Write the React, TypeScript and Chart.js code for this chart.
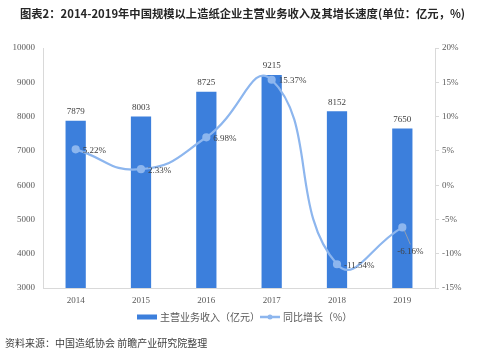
import React, { useEffect, useRef } from "react";
import { Chart, registerables } from "chart.js";

Chart.register(...registerables);

const years = ["2014", "2015", "2016", "2017", "2018", "2019"];
const revenue = [7879, 8003, 8725, 9215, 8152, 7650];
const growth = [5.22, 2.33, 6.98, 15.37, -11.54, -6.16];
const leftTicks = [3000, 4000, 5000, 6000, 7000, 8000, 9000, 10000];
const rightTicks = [-15, -10, -5, 0, 5, 10, 15, 20];
const titleText = "图表2：2014-2019年中国规模以上造纸企业主营业务收入及其增长速度(单位：亿元，%)";
const sourceText = "资料来源：中国造纸协会 前瞻产业研究院整理";
const barLegend = "主营业务收入（亿元）";
const lineLegend = "同比增长（%）";

const BAR_COLOR = "#3c7fdc";
const LINE_COLOR = "#8db6ee";
const TICK_FONT = { family: "'Liberation Serif', 'DejaVu Serif', serif", size: 9 };
const CJK = "'Noto Sans CJK SC', 'Noto Sans', sans-serif";

const labelPlugin = {
  id: "labels",
  afterDatasetsDraw(chart: any) {
    const ctx = chart.ctx;
    ctx.save();
    ctx.font = "9px 'Liberation Serif', serif";
    ctx.fillStyle = "#404040";
    const barMeta = chart.getDatasetMeta(0);
    barMeta.data.forEach((el: any, i: number) => {
      ctx.textAlign = "center";
      ctx.textBaseline = "middle";
      ctx.fillText(String(revenue[i]), el.x, el.y - 9);
    });
    const lineMeta = chart.getDatasetMeta(1);
    lineMeta.data.forEach((el: any, i: number) => {
      const txt = growth[i].toFixed(2) + "%";
      ctx.textAlign = "left";
      ctx.textBaseline = "middle";
      if (i === lineMeta.data.length - 1) {
        ctx.strokeStyle = "#a6a6a6";
        ctx.lineWidth = 0.8;
        ctx.beginPath();
        ctx.moveTo(el.x + 2, el.y + 3);
        ctx.lineTo(el.x + 8, el.y + 17);
        ctx.stroke();
        ctx.fillText(txt, el.x - 5, el.y + 24);
      } else {
        ctx.fillText(txt, el.x + 7, el.y + 1);
      }
    });
    const ly = 317;
    ctx.fillStyle = BAR_COLOR;
    ctx.fillRect(137, ly - 2.5, 20, 5);
    ctx.font = `10px ${CJK}`;
    ctx.fillStyle = "#595959";
    ctx.textAlign = "left";
    ctx.fillText(barLegend, 160, ly);
    ctx.strokeStyle = LINE_COLOR;
    ctx.lineWidth = 2.5;
    ctx.beginPath();
    ctx.moveTo(260, ly);
    ctx.lineTo(280, ly);
    ctx.stroke();
    ctx.fillStyle = LINE_COLOR;
    ctx.beginPath();
    ctx.arc(270, ly, 2.5, 0, Math.PI * 2);
    ctx.fill();
    ctx.fillStyle = "#595959";
    ctx.fillText(lineLegend, 283, ly);
    ctx.restore();
  },
};

export default function App() {
  const ref = useRef<HTMLCanvasElement>(null);
  useEffect(() => {
    const chart = new Chart(ref.current!, {
      type: "bar",
      data: {
        labels: years,
        datasets: [
          {
            type: "bar",
            label: barLegend,
            data: revenue,
            backgroundColor: BAR_COLOR,
            barPercentage: 0.31,
            categoryPercentage: 1,
            yAxisID: "y",
            order: 1,
          },
          {
            type: "line",
            label: lineLegend,
            data: growth,
            borderColor: LINE_COLOR,
            backgroundColor: LINE_COLOR,
            borderWidth: 2.2,
            pointRadius: 3,
            tension: 0.5,
            yAxisID: "y1",
            order: 0,
          } as any,
        ],
      },
      options: {
        responsive: false,
        animation: false,
        layout: { padding: { top: 48, left: 0, right: 0, bottom: 0 } },
        plugins: { legend: { display: false }, tooltip: { enabled: false } },
        scales: {
          x: {
            grid: { display: false, drawTicks: false },
            border: { color: "#d9d9d9" },
            ticks: { font: TICK_FONT, color: "#595959", padding: 7 },
            afterFit(s: any) { s.height = 74; },
          },
          y: {
            position: "left",
            min: 3000,
            max: 10000,
            afterBuildTicks(s: any) { s.ticks = leftTicks.map((v) => ({ value: v })); },
            grid: { display: false, drawTicks: false },
            border: { color: "#d9d9d9" },
            ticks: { font: TICK_FONT, color: "#595959", padding: 8, callback: (v: any) => String(v) },
            afterFit(s: any) { s.width = 43; },
          },
          y1: {
            position: "right",
            min: -15,
            max: 20,
            afterBuildTicks(s: any) { s.ticks = rightTicks.map((v) => ({ value: v })); },
            grid: { drawOnChartArea: false, drawTicks: true, tickLength: 4, color: "#d9d9d9" },
            border: { color: "#d9d9d9" },
            ticks: { font: TICK_FONT, color: "#595959", padding: 3, callback: (v: any) => v + "%" },
            afterFit(s: any) { s.width = 65; },
          },
        },
      },
      plugins: [labelPlugin],
    });
    return () => chart.destroy();
  }, []);

  return (
    <div style={{ position: "fixed", left: 0, top: 0, width: 500, height: 362, background: "#fff" }}>
      <canvas ref={ref} width={500} height={362} style={{ position: "absolute", left: 0, top: 0 }} />
      <div
        style={{
          position: "absolute", left: 20, top: 5, width: 470, whiteSpace: "nowrap",
          fontFamily: CJK, fontWeight: "bold", fontSize: 11.3, color: "#262626", lineHeight: "16px",
        }}
      >
        {titleText}
      </div>
      <div
        style={{
          position: "absolute", left: 5, top: 335, whiteSpace: "nowrap",
          fontFamily: CJK, fontSize: 10, color: "#404040", lineHeight: "16px",
        }}
      >
        {sourceText}
      </div>
    </div>
  );
}
